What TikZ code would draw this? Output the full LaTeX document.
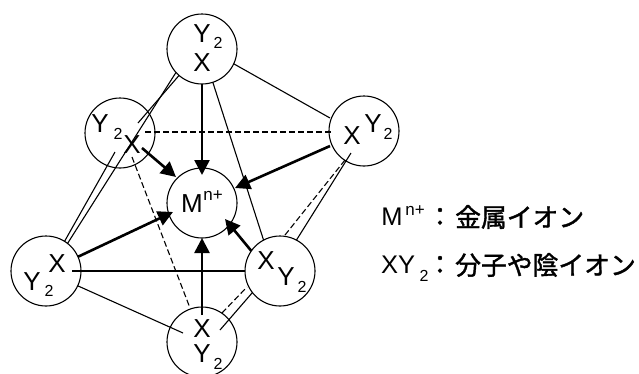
\documentclass[tikz,border=0pt]{standalone}
\usepackage{fontspec}
\setmainfont{Liberation Sans}
\newfontfamily\jpfont[FakeBold=1.5]{Noto Sans CJK JP}
\usetikzlibrary{arrows.meta}

\begin{document}
\begin{tikzpicture}[
    x=1pt, y=-1pt,
    ion/.style={draw, circle, fill=white, line width=1.1pt, minimum size=70pt, inner sep=0pt, outer sep=0pt},
    atom/.style={inner sep=0pt, font=\fontsize{26}{26}\selectfont},
    subnum/.style={inner sep=0pt, font=\fontsize{16}{16}\selectfont},
    charge/.style={inner sep=0pt, font=\fontsize{17}{17}\selectfont},
    legend/.style={inner sep=0pt, font=\fontsize{25.5}{26}\selectfont},
    legendjp/.style={inner sep=0pt, anchor=west, font=\fontsize{25.8}{26}\jpfont},
    edge/.style={line width=1.1pt},
    hidden/.style={line width=1.1pt, dashed, dash pattern=on 6pt off 3pt},
    arrow/.style={line width=2.6pt, -{Triangle[length=15pt,width=15pt]}}
]
    \useasboundingbox (0,0) rectangle (639,373);

    \node[ion] (top) at (202,49) {};
    \node[ion] (upleft) at (120,133) {};
    \node[ion] (right) at (364,131) {};
    \node[ion] (metal) at (202,203) {};
    \node[ion] (lowleft) at (46,271) {};
    \node[ion] (lowright) at (280,271) {};
    \node[ion] (bottom) at (202,342) {};

    % inner line ends
    \coordinate (upleftA) at (138,123);
    \coordinate (upleftB) at (115,152);
    \coordinate (upleftC) at (145,132);
    \coordinate (upleftD) at (132,157);
    \coordinate (rightA) at (330,118);
    \coordinate (rightB) at (331,132);
    \coordinate (rightC) at (345,160);
    \coordinate (rightD) at (351,153);
    \coordinate (lowleftA) at (72,271);
    \coordinate (bottomA) at (183,333);
    \coordinate (bottomB) at (220,330);
    \coordinate (bottomC) at (222,313);
    \coordinate (bottomD) at (190,308);
    \coordinate (lowrightA) at (247,287);
    \coordinate (lowrightB) at (285,235);
    % arrow tips
    \coordinate (tipT) at (202,175);
    \coordinate (tipUL) at (176,177);
    \coordinate (tipR) at (235,188);
    \coordinate (tipLL) at (173,212);
    \coordinate (tipLR) at (225,219);
    \coordinate (tipB) at (202,238);
    \coordinate (startUL) at (142,148);
    \coordinate (startR) at (330,146);
    \coordinate (startB) at (202,315);

    \draw[edge] (top.229) -- (upleftA);
    \draw[edge] (top.222) -- (lowleft.52);
    \draw[edge] (upleftB) -- (lowleft.58);
    \draw[edge] (top.335) -- (rightA);
    \draw[edge] (top.288) -- (lowright.118);
    \draw[edge] (lowleftA) -- (lowright.180);
    \draw[edge] (lowleft.335) -- (bottomA);
    \draw[edge] (bottomB) -- (lowright.218);
    \draw[edge] (lowright.62) -- (rightD);
    \draw[hidden] (upleftC) -- (rightB);
    \draw[hidden] (upleftD) -- (bottomD);
    \draw[hidden] (bottomC) -- (lowrightA);
    \draw[hidden] (lowrightB) -- (rightC);

    \draw[arrow] (top.270) -- (tipT);
    \draw[arrow] (startUL) -- (tipUL);
    \draw[arrow] (startR) -- (tipR);
    \draw[arrow] (lowleft.24) -- (tipLL);
    \draw[arrow] (lowright.145) -- (tipLR);
    \draw[arrow] (startB) -- (tipB);

    \node[atom] (topY) at (202,34) {Y};
    \node[subnum] (topS) at (218,43) {2};
    \node[atom] (topX) at (202,63) {X};
    \node[atom] (upleftY) at (100,124) {Y};
    \node[subnum] (upleftS) at (118,134) {2};
    \node[atom] (upleftX) at (132,145) {X};
    \node[atom] (rightX) at (352,136) {X};
    \node[atom] (rightY) at (373,124) {Y};
    \node[subnum] (rightS) at (388,134) {2};
    \node[atom] (lowleftX) at (57,264) {X};
    \node[atom] (lowleftY) at (32,282) {Y};
    \node[subnum] (lowleftS) at (49,291) {2};
    \node[atom] (lowrightX) at (266,261) {X};
    \node[atom] (lowrightY) at (286,277) {Y};
    \node[subnum] (lowrightS) at (302,287) {2};
    \node[atom] (bottomX) at (202,329) {X};
    \node[atom] (bottomY) at (202,354) {Y};
    \node[subnum] (bottomS) at (218,364) {2};
    \node[atom] (metalM) at (192,204) {M};
    \node[charge] (metalC) at (213,196) {n+};

    \node[legend] (keyM) at (392,217) {M};
    \node[charge] (keyC) at (415,211) {n+};
    \node[legend, anchor=west] (keyXY) at (381,265) {XY};
    \node[subnum] (keyS) at (424,276) {2};
    \node[legendjp, anchor=center] (colonA) at (440,217) {：};
    \node[legendjp, anchor=center] (colonB) at (440,265) {：};
    \node[legendjp] (keyA) at (455,217) {金属イオン};
    \node[legendjp] (keyB) at (455,265) {分子や陰イオン};
\end{tikzpicture}
\end{document}
